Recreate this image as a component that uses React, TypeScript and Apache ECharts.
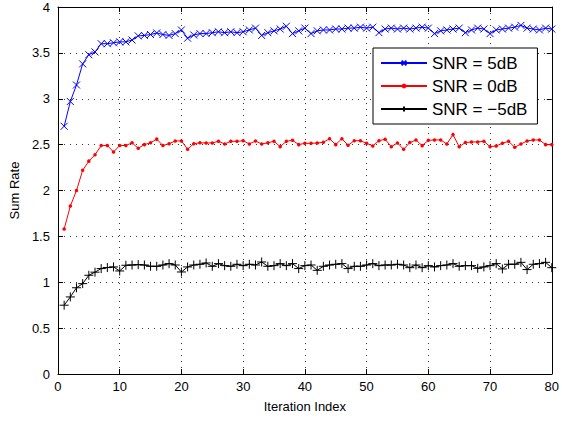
import React, { useEffect, useRef } from "react";
import * as echarts from "echarts";

const iterations: number[] = Array.from({ length: 80 }, (_, i) => i + 1);

const snr5: number[] = [
  2.70, 2.97, 3.15, 3.38, 3.48, 3.51, 3.60, 3.60, 3.61, 3.62,
  3.62, 3.64, 3.685, 3.69, 3.70, 3.717, 3.70, 3.69, 3.71, 3.75,
  3.66, 3.695, 3.71, 3.71, 3.72, 3.73, 3.72, 3.73, 3.72, 3.73,
  3.75, 3.77, 3.69, 3.72, 3.74, 3.76, 3.79, 3.71, 3.74, 3.77,
  3.71, 3.74, 3.75, 3.75, 3.76, 3.76, 3.77, 3.77, 3.78, 3.77,
  3.78, 3.72, 3.76, 3.77, 3.76, 3.77, 3.76, 3.77, 3.78, 3.77,
  3.71, 3.74, 3.75, 3.76, 3.77, 3.72, 3.75, 3.77, 3.76, 3.71,
  3.75, 3.76, 3.77, 3.78, 3.80, 3.77, 3.76, 3.75, 3.77, 3.76,
];

const snr0: number[] = [
  1.58, 1.83, 2.00, 2.22, 2.32, 2.39, 2.49, 2.49, 2.42, 2.49,
  2.49, 2.52, 2.46, 2.50, 2.52, 2.56, 2.49, 2.51, 2.54, 2.54,
  2.45, 2.51, 2.52, 2.518, 2.518, 2.536, 2.507, 2.536, 2.536, 2.543,
  2.507, 2.54, 2.507, 2.52, 2.536, 2.478, 2.536, 2.547, 2.50, 2.514,
  2.514, 2.518, 2.525, 2.565, 2.50, 2.565, 2.493, 2.543, 2.543, 2.514,
  2.486, 2.543, 2.558, 2.478, 2.518, 2.449, 2.522, 2.551, 2.489, 2.547,
  2.551, 2.551, 2.507, 2.609, 2.478, 2.522, 2.529, 2.529, 2.536, 2.478,
  2.486, 2.514, 2.536, 2.471, 2.507, 2.540, 2.551, 2.551, 2.50, 2.50,
];

const snrM5: number[] = [
  0.75, 0.84, 0.94, 0.985, 1.076, 1.11, 1.149, 1.16, 1.167, 1.123,
  1.185, 1.188, 1.192, 1.188, 1.174, 1.174, 1.188, 1.203, 1.188, 1.112,
  1.167, 1.188, 1.196, 1.21, 1.174, 1.203, 1.181, 1.174, 1.196, 1.181,
  1.196, 1.188, 1.221, 1.174, 1.181, 1.203, 1.181, 1.203, 1.149, 1.181,
  1.188, 1.13, 1.174, 1.188, 1.196, 1.203, 1.149, 1.174, 1.174, 1.188,
  1.203, 1.181, 1.188, 1.188, 1.196, 1.188, 1.159, 1.188, 1.159, 1.181,
  1.167, 1.181, 1.188, 1.203, 1.174, 1.181, 1.181, 1.152, 1.167, 1.181,
  1.203, 1.145, 1.196, 1.196, 1.217, 1.138, 1.196, 1.203, 1.217, 1.159,
];

const seriesNames: string[] = ["SNR = 5dB", "SNR = 0dB", "SNR = \u22125dB"];
const xTicks = { min: 0, max: 80, interval: 10 };
const yTicks = { min: 0, max: 4, interval: 0.5 };
const xAxisName = "Iteration Index";
const yAxisName = "Sum Rate";

const FONT = "Liberation Sans, Arial, Helvetica, sans-serif";

export default function App() {
  const ref = useRef<HTMLDivElement>(null);
  useEffect(() => {
    if (!ref.current) return;
    const chart = echarts.init(ref.current, undefined, { renderer: "svg" });
    const zip = (ys: number[]) => iterations.map((x, i) => [x, ys[i]]);
    const gridLine = { show: true, lineStyle: { color: "#333", type: [1, 5], width: 1 } };
    const axisLine = { show: true, onZero: false, lineStyle: { color: "#000", width: 1 } };
    const tick = { show: true, inside: true, length: 5, lineStyle: { color: "#000" } };
    chart.setOption({
      animation: false,
      backgroundColor: "#fff",
      textStyle: { fontFamily: FONT },
      grid: { left: 55, right: 6, top: 7, bottom: 47, containLabel: false },
      legend: {
        orient: "vertical",
        left: 373,
        top: 48,
        width: 166,
        padding: [6, 10, 6, 7],
        itemWidth: 46,
        itemHeight: 6,
        itemGap: 5,
        backgroundColor: "#fff",
        borderColor: "#000",
        borderWidth: 1,
        borderRadius: 0,
        textStyle: { fontSize: 17, color: "#000", fontFamily: FONT, lineHeight: 18 },
        data: seriesNames,
      },
      xAxis: [
        {
          type: "value",
          ...xTicks,
          name: xAxisName,
          nameLocation: "middle",
          nameGap: 26,
          nameTextStyle: { fontSize: 13, color: "#000" },
          axisLine,
          axisTick: tick,
          axisLabel: { color: "#000", fontSize: 13, margin: 6 },
          splitLine: gridLine,
        },
        {
          type: "value",
          position: "top",
          ...xTicks,
          axisLine,
          axisTick: tick,
          axisLabel: { show: false },
          splitLine: { show: false },
        },
      ],
      yAxis: [
        {
          type: "value",
          ...yTicks,
          name: yAxisName,
          nameLocation: "middle",
          nameGap: 36,
          nameTextStyle: { fontSize: 13, color: "#000" },
          axisLine,
          axisTick: tick,
          axisLabel: { color: "#000", fontSize: 13, margin: 8 },
          splitLine: gridLine,
        },
        {
          type: "value",
          position: "right",
          ...yTicks,
          axisLine,
          axisTick: tick,
          axisLabel: { show: false },
          splitLine: { show: false },
        },
      ],
      series: [
        {
          name: seriesNames[0],
          type: "line",
          data: zip(snr5),
          symbol: "path://M0,0L10,10M10,0L0,10",
          symbolSize: 7,
          color: "#0000ff",
          lineStyle: { color: "#0000ff", width: 1 },
          itemStyle: { color: "#0000ff", borderColor: "#0000ff", borderWidth: 1 },
        },
        {
          name: seriesNames[1],
          type: "line",
          data: zip(snr0),
          symbol: "circle",
          symbolSize: 3.5,
          color: "#ff0000",
          lineStyle: { color: "#ff0000", width: 1 },
          itemStyle: { color: "#ff0000", borderColor: "#ff0000", borderWidth: 0 },
        },
        {
          name: seriesNames[2],
          type: "line",
          data: zip(snrM5),
          symbol: "path://M5,0L5,10M0,5L10,5",
          symbolSize: 9,
          color: "#000000",
          lineStyle: { color: "#000000", width: 1 },
          itemStyle: { color: "#000000", borderColor: "#000000", borderWidth: 1 },
        },
      ],
    });
    return () => chart.dispose();
  }, []);
  return <div ref={ref} style={{ width: 562, height: 421, position: "absolute", left: 0, top: 0 }} />;
}
